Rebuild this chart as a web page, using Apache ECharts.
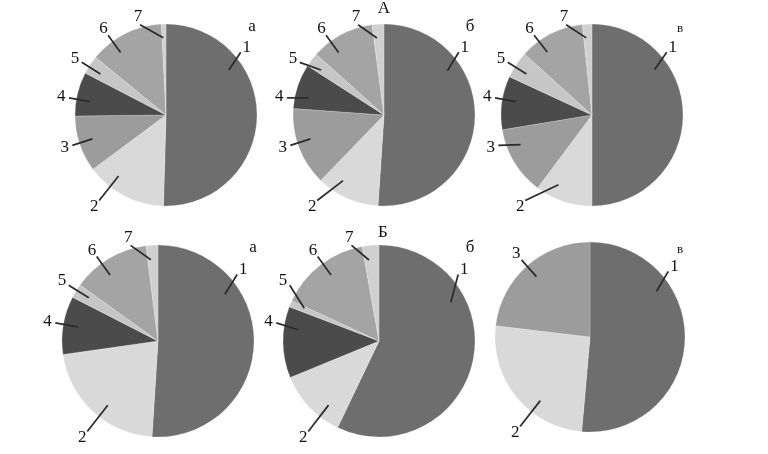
<!DOCTYPE html>
<html>
<head>
<meta charset="utf-8">
<script src="https://cdn.jsdelivr.net/npm/echarts@6/dist/echarts.min.js"></script>
<style>
  html, body { margin: 0; padding: 0; background: #fff; }
  #chart { width: 768px; height: 454px; }
</style>
</head>
<body>
<div id="chart"></div>
<script>
// slice names and shares (%), clockwise from 12 o'clock
const categories = ['1', '2', '3', '4', '5', '6', '7'];
const pieA_a = [50.5, 14.4, 10.0, 7.8, 3.3, 13.3, 0.8];
const pieA_b = [51.1, 11.2, 13.9, 8.0, 2.5, 11.3, 2.1];
const pieA_v = [50.0, 10.2, 12.2, 9.5, 4.8, 11.6, 1.7];
const pieB_a = [51.1, 21.8, 0, 9.8, 2.4, 13.1, 2.0];
const pieB_b = [57.1, 11.7, 0, 12.0, 1.1, 15.3, 2.8];
const pieB_v = [51.4, 25.5, 23.1, 0, 0, 0, 0];

const sliceColors = ['#6e6e6e', '#d9d9d9', '#9c9c9c', '#4b4b4b', '#c6c6c6', '#a4a4a4', '#d0d0d0'];
// where each number likes to sit (degrees clockwise from top, distance in radii)
const labelPrefAngle = [50, 218, 252, 280, 302, 324, 344];
const labelDist = [1.16, 1.28, 1.17, 1.17, 1.18, 1.17, 1.12];
const serif = "'Liberation Serif', 'Times New Roman', serif";

const chart = echarts.init(document.getElementById('chart'));

function makePie(values, cx, cy, r) {
  const items = [];
  const idx = [];
  values.forEach((v, i) => {
    if (v > 0) {
      items.push({ name: categories[i], value: v, itemStyle: { color: sliceColors[i] } });
      idx.push(i);
    }
  });
  const total = items.reduce((s, d) => s + d.value, 0);

  let start = 0;
  const ang = [], inner = [];
  items.forEach((d, k) => {
    const a = d.value / total * 360;
    const pref = labelPrefAngle[idx[k]];
    const near = pref >= start - 6 && pref <= start + a + 6;
    const la = (near || a < 20) ? pref : start + a / 2;
    ang.push(la);
    inner.push(Math.max(start + a * 0.3, Math.min(start + a * 0.7, la)));
    start += a;
  });

  const base = {
    type: 'pie',
    center: [cx, cy],
    radius: r,
    startAngle: 90,
    clockwise: true,
    avoidLabelOverlap: false,
    silent: true,
    data: items,
    itemStyle: { borderColor: 'rgba(255,255,255,0.35)', borderWidth: 0.6 },
    label: { show: false },
    labelLine: { show: false }
  };

  // transparent copy on top, only carries the numbers and the leader lines
  const labels = {
    type: 'pie',
    center: [cx, cy],
    radius: r,
    startAngle: 90,
    clockwise: true,
    avoidLabelOverlap: false,
    silent: true,
    z: 3,
    data: items.map(d => ({ name: d.name, value: d.value })),
    itemStyle: { color: 'rgba(0,0,0,0)' },
    label: {
      show: true,
      position: 'outside',
      formatter: '{b}',
      color: '#111',
      fontFamily: serif,
      fontSize: 17
    },
    labelLine: { show: true, length: 5, length2: 4, lineStyle: { color: '#2a2a2a', width: 1.7 } },
    labelLayout: function (params) {
      const k = params.dataIndex;
      const a = ang[k] * Math.PI / 180;
      const b = inner[k] * Math.PI / 180;
      const d = r * labelDist[idx[k]];
      const ro = d - 8, ri = r * 0.85;
      return {
        x: cx + Math.sin(a) * d,
        y: cy - Math.cos(a) * d,
        align: 'center',
        verticalAlign: 'middle',
        labelLinePoints: [
          [cx + Math.sin(b) * ri, cy - Math.cos(b) * ri],
          [cx + Math.sin(a) * ro, cy - Math.cos(a) * ro],
          [cx + Math.sin(a) * ro, cy - Math.cos(a) * ro]
        ]
      };
    }
  };
  return [base, labels];
}

function letter(txt, x, y, size) {
  return {
    type: 'text', x: x, y: y,
    style: { text: txt, fill: '#111', font: size + 'px ' + serif, textAlign: 'center', textVerticalAlign: 'middle' }
  };
}

chart.setOption({
  animation: false,
  backgroundColor: '#fff',
  graphic: [
    letter('А', 384, 9, 17),
    letter('Б', 383, 233, 17),
    letter('а', 252, 27, 17),
    letter('б', 470, 27, 17),
    letter('в', 680, 29, 13),
    letter('а', 253, 248, 17),
    letter('б', 470, 248, 17),
    letter('в', 680, 250, 13)
  ],
  series: [].concat(
    makePie(pieA_a, 166, 115, 91),
    makePie(pieA_b, 384, 115, 91),
    makePie(pieA_v, 592, 115, 91),
    makePie(pieB_a, 158, 341, 96),
    makePie(pieB_b, 379, 341, 96),
    makePie(pieB_v, 590, 337, 95)
  )
});
</script>
</body>
</html>
